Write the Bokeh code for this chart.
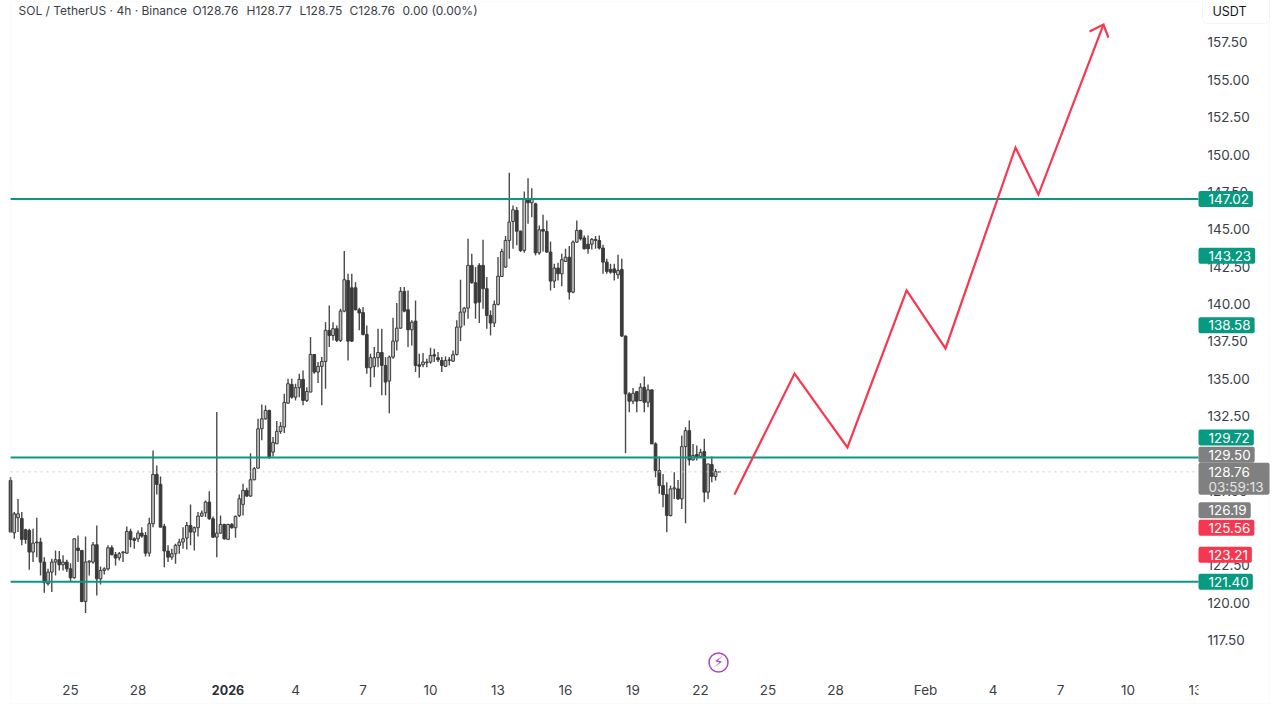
import numpy as np
from bokeh.embed import file_html
from bokeh.models import BoxAnnotation, Label, LinearAxis, Range1d, FixedTicker
from bokeh.plotting import figure
from bokeh.resources import INLINE

# ---------- data: SOL/USDT 4h candles ----------
opens = [
128.19,124.68,125.69,125.64,124.88,124.84,123.39,124.06,124.06,122.72,
121.27,122.05,122.72,122.88,122.54,122.72,122.27,121.67,123.66,123.50,
120.09,122.72,122.72,123.88,121.60,122.16,122.27,123.68,123.21,123.01,
123.34,123.32,124.77,124.28,124.28,124.66,124.50,123.32,125.29,128.59,
127.92,125.11,123.46,123.05,123.28,123.84,124.06,124.33,125.17,124.73,
125.02,125.80,126.02,126.74,125.62,124.39,124.66,125.24,124.24,125.24,
125.02,125.84,126.58,127.52,127.14,128.23,129.01,131.65,132.31,132.87,
130.08,130.64,131.47,131.76,133.36,134.61,133.76,134.39,134.95,133.54,
134.10,136.62,135.44,135.82,136.15,138.23,137.89,138.34,137.56,139.52,
141.57,141.08,141.08,139.61,139.43,137.96,135.73,135.82,136.40,136.75,
135.88,134.84,136.44,137.51,138.38,140.84,139.61,138.27,138.85,135.93,
135.93,136.06,136.11,136.60,136.40,136.22,135.82,136.22,136.17,136.62,
138.45,139.45,139.72,142.58,141.42,142.58,142.58,141.02,139.23,138.72,
139.97,141.84,142.47,144.25,145.52,146.26,144.87,143.58,147.04,146.77,
146.70,143.42,144.99,144.85,143.47,141.53,142.40,142.02,142.84,143.13,
140.79,144.14,144.92,144.41,144.00,144.00,144.25,144.25,143.74,142.80,
142.31,142.35,141.95,142.31,137.85,133.98,133.49,134.13,133.53,134.42,
133.42,134.25,130.63,128.85,127.84,127.24,125.84,127.62,127.62,126.95,
130.45,131.52,129.56,129.92,129.78,130.12,127.40,129.25,128.45,128.76]
highs = [
128.41,126.07,126.94,126.07,124.95,124.95,124.95,125.69,124.35,123.05,
122.27,122.94,123.50,123.46,123.17,122.88,122.65,124.28,124.50,123.50,
124.44,122.83,124.06,125.17,122.43,122.38,123.84,123.84,123.39,123.39,
123.46,125.11,124.95,124.39,124.84,125.06,124.73,125.69,130.19,129.19,
128.45,125.29,123.84,123.61,123.95,124.28,125.06,125.40,126.58,125.11,
126.07,126.18,126.85,127.47,125.78,132.76,125.84,125.29,125.29,125.33,
125.84,127.25,127.96,127.69,130.01,129.08,132.31,133.27,133.21,132.92,
131.09,132.16,132.09,133.99,134.99,134.99,134.66,135.33,135.55,134.43,
137.78,136.62,136.11,136.44,138.78,139.90,138.78,138.56,139.68,143.54,
142.02,142.02,141.46,139.74,139.79,138.56,136.67,137.11,138.34,138.34,
136.44,136.55,139.07,140.06,141.13,141.13,140.90,138.90,140.23,136.67,
136.71,136.33,137.07,137.00,136.78,136.44,136.49,136.44,136.89,138.90,
141.62,139.79,144.36,143.36,142.47,142.73,144.30,141.80,139.57,140.23,
143.14,143.69,144.54,148.78,146.59,146.48,144.92,147.53,148.42,147.75,
146.77,145.25,145.97,145.59,144.18,142.69,142.76,143.36,143.69,143.87,
144.25,145.59,144.99,144.58,144.58,144.41,144.54,144.58,143.96,143.02,
142.69,142.69,143.29,143.02,137.89,134.09,134.38,134.16,134.69,135.14,
134.60,134.25,130.74,129.78,128.62,128.07,127.84,128.74,128.22,131.19,
131.75,132.19,130.63,130.52,130.30,130.97,129.29,129.78,128.96,128.77]
lows = [
124.73,124.28,124.73,123.84,123.95,122.21,122.72,123.05,121.83,120.67,
121.16,120.71,121.83,122.16,122.16,122.05,121.38,121.60,122.72,120.04,
119.31,121.83,122.61,120.49,121.22,121.89,122.16,123.17,122.50,122.83,
122.72,123.28,123.72,123.61,124.06,124.35,123.10,123.10,125.06,127.25,
125.06,122.38,122.72,122.88,122.61,123.28,123.61,123.57,123.84,123.50,
124.44,125.73,125.73,125.55,124.35,123.05,124.62,124.21,124.21,124.95,
124.35,125.73,125.84,127.07,127.07,128.19,128.97,130.87,132.25,129.64,
129.79,130.64,131.31,131.36,133.32,133.65,133.54,133.76,133.21,133.43,
134.10,135.33,134.70,133.21,134.32,137.11,137.56,137.45,137.45,139.45,
136.22,137.45,139.57,138.23,137.89,135.33,134.43,135.10,135.77,133.88,
133.88,132.69,136.33,136.89,138.34,139.45,137.11,137.22,135.44,135.06,
135.77,135.77,136.00,136.11,136.11,135.44,135.77,135.88,136.11,136.55,
137.51,138.56,139.01,141.35,139.01,138.72,139.68,138.34,137.89,138.45,
139.90,141.80,142.40,143.02,143.69,143.92,143.47,143.42,145.37,145.81,
143.25,143.29,143.51,143.42,140.90,141.06,141.57,141.19,142.84,140.30,
140.72,144.09,144.25,143.65,143.36,143.65,143.69,143.65,142.02,142.02,
142.02,141.57,141.68,137.78,130.01,132.75,133.31,132.75,133.49,132.75,
133.09,130.63,128.40,127.29,126.39,124.72,125.77,126.95,126.88,126.28,
125.32,129.18,129.52,129.52,129.69,126.73,126.95,128.07,128.18,128.75]
closes = [
124.73,125.95,125.95,124.24,124.24,123.39,123.99,124.01,122.72,121.34,
122.05,122.72,122.88,122.54,122.72,122.27,121.67,124.28,123.50,120.09,
122.72,122.79,123.88,121.60,122.16,122.27,123.68,123.21,122.99,123.28,
123.39,124.77,124.24,124.17,124.66,124.46,123.32,125.29,128.59,127.92,
125.06,123.46,123.05,123.28,123.84,124.06,124.28,125.17,124.73,125.02,
125.80,126.00,126.74,125.62,124.39,124.66,125.24,124.28,125.24,125.02,
125.78,126.96,127.52,127.14,128.23,128.97,131.64,132.31,132.87,129.75,
130.73,131.47,131.80,133.41,134.66,133.76,134.39,134.95,133.54,134.14,
136.62,135.44,135.82,136.15,138.23,137.89,138.34,137.56,139.52,141.62,
137.51,137.51,139.61,139.39,137.96,135.73,136.40,136.40,136.75,135.88,
134.77,136.44,137.51,138.38,140.84,139.52,138.27,138.78,135.88,135.82,
136.11,136.11,136.55,136.51,136.26,135.88,136.22,136.26,136.60,138.45,
139.45,139.72,142.58,141.42,140.06,140.12,141.02,139.23,138.72,139.97,
141.86,143.51,144.25,145.48,146.30,144.87,143.58,147.04,146.77,147.04,
143.42,144.96,144.87,143.47,141.53,142.40,142.02,142.96,143.13,140.79,
144.14,144.92,144.36,143.69,143.69,144.32,144.32,143.74,142.80,142.18,
142.13,142.09,142.24,137.85,133.98,133.49,134.02,133.49,134.42,133.42,
134.25,130.63,128.85,127.84,127.24,125.84,127.62,127.69,126.95,130.45,
131.52,129.56,129.85,129.78,130.07,127.40,129.29,128.45,128.78,128.76]

# x is counted in days from 1 Jan 2026; one bar every 4 hours
first_bar_day = -9.665
bars_per_day = 6

level_prices = [147.02, 129.72, 121.40]

route_days = [22.51, 25.18, 27.53, 30.16, 31.89, 35.00, 36.02, 38.91]
route_prices = [127.24, 135.34, 130.39, 140.90, 137.02, 150.47, 147.32, 158.70]
arrow_days = [38.29, 38.91, 39.13]
arrow_prices = [158.23, 158.70, 157.83]

price_ticks = [117.5, 120, 122.5, 125, 127.5, 130, 132.5, 135, 137.5, 140,
               142.5, 145, 147.5, 150, 152.5, 155, 157.5]
day_ticks = [-7, -4, 3, 6, 9, 12, 15, 18, 21, 24, 27, 31, 34, 37, 40, 43]
day_labels = ["25", "28", "4", "7", "10", "13", "16", "19", "22", "25", "28",
              "Feb", "4", "7", "10", "13"]
year_label = "2026"

# price tag: value, colour name, vertical nudge of the tag in px
price_tags = [(147.02, "green", 0), (143.23, "green", 0), (138.58, "green", 0),
              (129.72, "green", 20), (129.50, "grey", 6), (126.19, "grey", 0),
              (125.56, "red", -8), (123.21, "red", 0), (121.40, "green", 0)]
last_price = 128.76
countdown = "03:59:13"

title = "SOL / TetherUS \u00b7 4h \u00b7 Binance"
ohlc_texts = ["O128.76", "H128.77", "L128.75", "C128.76", "0.00 (0.00%)"]

# ---------- styles and scale ----------
FONT = "Inter"
SIZE = "13.5px"
INK = "#3b3e47"
CANDLE = "#3a3a3a"
GREEN, RED, GREY = "#089981", "#f7374f", "#808080"
TAG = {"green": GREEN, "red": RED, "grey": GREY}
BORDER = "#f0f3fa"
PURPLE = "#ab47bc"

# The plot frame fills the canvas; the chart pane ends at these limits.
PANE_LEFT, PANE_RIGHT = -9.667, 43.133
DATE_AXIS_PRICE = 115.53

p = figure(width=1280, height=720, output_backend="svg", toolbar_location=None,
           x_range=Range1d(-10.111, 46.778), y_range=Range1d(112.117, 160.31),
           x_axis_location=None, y_axis_location=None,
           min_border_left=0, min_border_right=0, min_border_top=0, min_border_bottom=0,
           background_fill_color="white", outline_line_color=None)
p.grid.visible = False

# ---------- candles ----------
o, h, l, c = map(np.array, (opens, highs, lows, closes))
x = first_bar_day + np.arange(len(o)) / bars_per_day
up = c >= o
body = 2.7 / 22.5
p.segment(x, h, x, l, line_color="#4a4a4a", line_width=1.4)
p.vbar(x[up], body, o[up], c[up], fill_color="#c4c4c4", line_color=CANDLE, line_width=1)
p.vbar(x[~up], body, c[~up], o[~up], fill_color=CANDLE, line_color=CANDLE, line_width=1)

# ---------- levels, last price and drawn route ----------
p.segment([PANE_LEFT], [last_price], [PANE_RIGHT], [last_price], line_color="#c9ccd3",
          line_dash="dotted", line_width=1)
for lv in level_prices:
    p.segment([PANE_LEFT], [lv], [PANE_RIGHT], [lv], line_color=GREEN, line_width=2)
p.line(route_days, route_prices, line_color=RED, line_width=2.2, line_join="miter")
p.line(arrow_days, arrow_prices, line_color=RED, line_width=2.2, line_join="miter")

# ---------- axes, pinned at the edges of the pane ----------
ax = LinearAxis(ticker=FixedTicker(ticks=price_ticks), fixed_location=PANE_RIGHT,
                major_label_overrides={t: f"{t:.2f}" for t in price_ticks},
                axis_line_color=None, major_tick_line_color=None, minor_tick_line_color=None,
                major_label_standoff=3, major_label_text_font=FONT,
                major_label_text_font_size=SIZE, major_label_text_color=INK)
p.add_layout(ax, "right")
bx = LinearAxis(ticker=FixedTicker(ticks=day_ticks), fixed_location=DATE_AXIS_PRICE,
                major_label_overrides=dict(zip(day_ticks, day_labels)),
                axis_line_color=None, major_tick_line_color=None, minor_tick_line_color=None,
                major_label_standoff=6, major_label_text_font=FONT,
                major_label_text_font_size=SIZE, major_label_text_color=INK)
p.add_layout(bx, "below")

# ---------- lightning marker ----------
p.scatter([21.8], [116.0], size=19, marker="circle", fill_color="white",
          line_color=PURPLE, line_width=1.5)
p.add_layout(Label(x=21.8, y=116.0, text="\u26a1", text_font="DejaVu Sans",
                   text_font_size="15px", text_color=PURPLE, text_align="center",
                   text_baseline="middle"))

# ---------- cover for the clipped last date, frame ----------
p.add_layout(BoxAnnotation(left=1198, right=1268, bottom=21, top=42,
                           left_units="screen", right_units="screen",
                           bottom_units="screen", top_units="screen",
                           fill_color="white", fill_alpha=1, line_color=None))
p.add_layout(BoxAnnotation(left=10, right=1269, bottom=17, top=719,
                           left_units="screen", right_units="screen",
                           bottom_units="screen", top_units="screen",
                           fill_alpha=0, line_color=BORDER, line_width=1))

p.add_layout(Label(x=0, y=31, y_units="screen", text=year_label, text_font=FONT,
                   text_font_size="12.5px", text_font_style="bold", text_color="#2a2e39",
                   text_align="center", text_baseline="middle"))

# ---------- price tags ----------
# padding order is (left, right, top, bottom); the box is centred on the anchor
def tag(text, price, colour, nudge=0, pad=(10, 4, 3, 3), color="white"):
    p.add_layout(Label(x=1198, x_units="screen", y=price, y_offset=nudge, text=text,
                       text_font=FONT, text_font_size=SIZE, text_color=color,
                       text_align="left", text_baseline="middle", padding=pad,
                       background_fill_color=colour, border_radius=2))

for value, name, nudge in price_tags:
    tag(f"{value:.2f}", value, TAG[name], nudge)

# last price box: taller tag carrying the countdown, price text above it
tag(countdown, last_price, GREY, -7, pad=(10, 6, 16, 0), color="#e4e4e4")
p.add_layout(Label(x=1208, x_units="screen", y=last_price,
                   text=f"{last_price:.2f}", text_font=FONT, text_font_size=SIZE,
                   text_color="white", text_align="left", text_baseline="middle"))

# ---------- header and currency button ----------
for sx, text in zip([18, 192, 246, 299, 349, 402], [title] + ohlc_texts):
    p.add_layout(Label(x=sx, y=710, x_units="screen", y_units="screen", text=text,
                       text_font=FONT, text_font_size="12px", text_color=INK,
                       text_baseline="middle"))
p.add_layout(Label(x=1202, y=712, x_units="screen", y_units="screen", text="USDT",
                   text_font=FONT, text_font_size="12.5px", text_color="#131722",
                   text_baseline="middle", padding=(10, 23, 10, 5),
                   background_fill_color="white", border_line_color=BORDER,
                   border_radius=4))

open("out.html", "w").write(file_html(p, INLINE))
